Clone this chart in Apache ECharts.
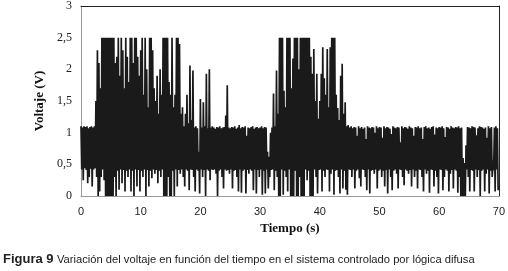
<!DOCTYPE html>
<html><head><meta charset="utf-8">
<script src="https://cdn.jsdelivr.net/npm/echarts@6/dist/echarts.min.js"></script>
<style>html,body{margin:0;padding:0;background:#fff}#c{width:508px;height:271px}</style>
</head><body><div id="c"></div>
<script>
// Sampling step (s) of the read-off peaks/troughs
const step = 0.25;
const xTicks = [0, 10, 20, 30, 40, 50, 60, 70];
const yTicks = ['0', '0,5', '1', '1,5', '2', '2,5', '3'];
const xTitle = 'Tiempo (s)';
const yTitle = 'Voltaje (V)';
const captionBold = 'Figura 9';
const captionText = 'Variación del voltaje en función del tiempo en el sistema controlado por lógica difusa';

// Local maxima of the signal, one every 0.25 s
const peaks = [
  1.10,1.08,1.10,1.09, 1.10,1.07,1.09,1.10, 1.08,1.10,1.50,2.30, 2.10,1.70,2.50,2.50, 2.50,2.50,2.50,2.50,
  2.50,2.50,2.50,2.10, 2.20,2.50,1.90,2.50, 2.30,1.70,2.50,2.20, 1.80,2.50,2.50,2.10, 2.50,2.50,2.20,1.90,
  2.30,2.50,1.60,2.50, 2.00,1.40,2.50,2.50, 2.30,1.70,1.50,1.90, 1.30,2.00,1.60,2.50, 2.50,2.50,2.50,1.80,
  1.60,2.50,1.40,1.60, 2.50,2.50,2.40,1.30, 1.40,1.10,1.30,1.60, 1.15,2.06,1.20,1.98, 1.08,1.10,1.07,0.70,
  1.53,1.08,1.48,1.10, 1.93,1.07,2.00,1.08, 1.10,1.08,1.06,1.09, 1.08,1.10,1.07,1.08, 1.09,1.27,1.75,1.08,
  1.07,1.09,1.08,1.10, 1.06,1.08,1.12,1.07, 1.09,1.08,1.10,0.95, 1.08,1.07,1.09,1.10, 1.06,1.08,1.09,1.07,
  1.08,1.10,1.07,1.09, 1.08,0.70,0.62,1.00, 1.08,1.62,1.10,1.98, 1.30,2.50,2.50,2.50, 1.66,1.40,2.50,2.50,
  2.50,1.70,2.17,2.50, 2.50,2.50,2.00,2.50, 2.50,2.50,2.50,2.50, 2.50,2.50,2.20,1.93, 2.32,1.50,1.93,1.22,
  1.50,1.93,2.35,1.86, 1.60,2.32,1.40,2.35, 2.50,2.50,2.50,1.60, 1.39,1.20,1.90,2.09, 1.30,1.48,1.10,1.12,
  1.08,1.10,1.07,1.09, 1.08,0.95,1.10,1.07, 1.09,1.06,1.08,0.90, 1.10,1.08,1.07,1.09, 1.08,1.00,1.10,1.07,
  1.09,1.08,0.92,1.10, 1.07,1.09,1.08,1.06, 0.98,1.10,1.08,1.07, 1.09,1.08,0.85,1.10, 1.07,1.09,1.08,1.06,
  1.10,1.08,1.07,0.95, 1.09,1.08,1.10,1.07, 1.08,0.90,1.09,1.10, 1.07,1.08,1.06,1.09, 1.10,0.97,1.08,1.07,
  1.09,1.08,1.10,1.07, 0.93,1.09,1.08,1.06, 1.10,1.08,1.07,1.09, 1.08,1.10,1.07,1.08, 0.60,0.52,0.80,1.09,
  1.08,1.07,1.10,1.09, 1.08,0.96,1.07,1.10, 1.09,1.08,1.06,1.08, 0.92,1.10,1.07,1.09, 0.48,1.08,1.10,1.07
];
// Local minima of the signal, each half a step after its peak
const troughs = [
  0.42,0.25,0.44,0.41, 0.20,0.30,0.43,0.15, 0.42,0.44,0.30,0.00, 0.07,0.30,0.42,0.25, 0.00,0.00,0.00,0.00,
  0.00,0.00,0.30,0.00, 0.40,0.10,0.42,0.20, 0.41,0.07,0.40,0.30, 0.42,0.07,0.40,0.00, 0.42,0.15,0.41,0.07,
  0.40,0.30,0.42,0.00, 0.41,0.15,0.40,0.28, 0.42,0.35,0.41,0.20, 0.40,0.30,0.42,0.00, 0.00,0.00,0.30,0.00,
  0.00,0.40,0.00,0.42, 0.15,0.41,0.35,0.42, 0.30,0.15,0.42,0.40, 0.09,0.42,0.41,0.30, 0.07,0.42,0.40,0.04,
  0.42,0.30,0.41,0.00, 0.42,0.40,0.25,0.42, 0.41,0.42,0.35,0.00, 0.40,0.42,0.30,0.12, 0.42,0.40,0.41,0.35,
  0.42,0.12,0.40,0.41, 0.30,0.07,0.42,0.05, 0.40,0.42,0.04,0.41, 0.35,0.42,0.40,0.09, 0.42,0.04,0.41,0.30,
  0.42,0.02,0.40,0.04, 0.42,0.12,0.30,0.41, 0.42,0.09,0.40,0.30, 0.00,0.00,0.42,0.02, 0.40,0.30,0.07,0.42,
  0.00,0.00,0.00,0.40, 0.00,0.00,0.30,0.00, 0.00,0.00,0.42,0.25, 0.40,0.00,0.00,0.00, 0.42,0.30,0.04,0.41,
  0.42,0.07,0.40,0.30, 0.42,0.41,0.07,0.35, 0.42,0.02,0.40,0.41, 0.30,0.04,0.42,0.12, 0.40,0.10,0.02,0.42,
  0.41,0.30,0.42,0.12, 0.40,0.42,0.28,0.15, 0.42,0.41,0.30,0.09, 0.42,0.04,0.40,0.41, 0.35,0.42,0.12,0.40,
  0.42,0.30,0.40,0.15, 0.41,0.04,0.42,0.30, 0.09,0.40,0.42,0.35, 0.12,0.42,0.41,0.30, 0.17,0.42,0.40,0.35,
  0.41,0.15,0.42,0.30, 0.40,0.12,0.42,0.41, 0.30,0.07,0.42,0.35, 0.40,0.05,0.42,0.41, 0.15,0.40,0.30,0.04,
  0.42,0.41,0.09,0.30, 0.42,0.40,0.07,0.35, 0.41,0.12,0.42,0.40, 0.05,0.30,0.00,0.00, 0.00,0.00,0.42,0.30,
  0.07,0.41,0.40,0.07, 0.42,0.30,0.41,0.00, 0.40,0.42,0.07,0.35, 0.42,0.04,0.40,0.30, 0.41,0.07,0.42,0.09
];

// Build the zig-zag series: peak at t, trough half a step later
const series = [];
for (let i = 0; i < peaks.length; i++) {
  series.push([i * step, peaks[i]]);
  series.push([i * step + step / 2, troughs[i]]);
}

const chart = echarts.init(document.getElementById('c'), null, {renderer: 'canvas'});
const serif = '"Liberation Serif", "Times New Roman", serif';
const sans = '"Liberation Sans", Arial, sans-serif';
chart.setOption({
  animation: false,
  grid: {left: 81, right: 6, top: 5, bottom: 75, containLabel: false},
  xAxis: [{
    type: 'value', min: 0, max: 70, interval: 10,
    axisLine: {show: true, lineStyle: {color: '#999', width: 1}},
    axisTick: {show: false}, splitLine: {show: false},
    axisLabel: {margin: 10, color: '#222', fontFamily: sans, fontSize: 11,
      formatter: v => String(xTicks[Math.round(v / 10)])},
    name: xTitle, nameLocation: 'middle', nameGap: 24,
    nameTextStyle: {fontFamily: serif, fontWeight: 'bold', fontSize: 13, color: '#111'}
  }, {
    type: 'value', min: 0, max: 70, position: 'top',
    axisLine: {show: true, onZero: false, lineStyle: {color: '#222', width: 1}},
    axisTick: {show: false}, axisLabel: {show: false}, splitLine: {show: false}
  }],
  yAxis: [{
    type: 'value', min: 0, max: 3, interval: 0.5,
    axisLine: {show: true, lineStyle: {color: '#999', width: 1}},
    axisTick: {show: false}, splitLine: {show: false},
    axisLabel: {margin: 9, color: '#222', fontFamily: serif, fontSize: 12,
      formatter: v => yTicks[Math.round(v * 2)]},
    name: yTitle, nameLocation: 'middle', nameGap: 27, nameRotate: 90,
    nameTextStyle: {fontFamily: serif, fontWeight: 'bold', fontSize: 13, color: '#111'}
  }, {
    type: 'value', min: 0, max: 3, position: 'right',
    axisLine: {show: true, onZero: false, lineStyle: {color: '#222', width: 1}},
    axisTick: {show: false}, axisLabel: {show: false}, splitLine: {show: false}
  }],
  series: [{
    type: 'line', data: series, showSymbol: false, symbol: 'none',
    lineStyle: {color: '#1a1a1a', width: 1.7, join: 'miter'}, silent: true
  }],
  graphic: [{
    type: 'text', left: 3, top: 253,
    style: {
      text: '{b|' + captionBold + '} {n|' + captionText + '}',
      rich: {
        b: {fontFamily: sans, fontWeight: 'bold', fontSize: 13, fill: '#222'},
        n: {fontFamily: sans, fontSize: 11.2, fill: '#222'}
      }
    }
  }]
});
</script></body></html>
